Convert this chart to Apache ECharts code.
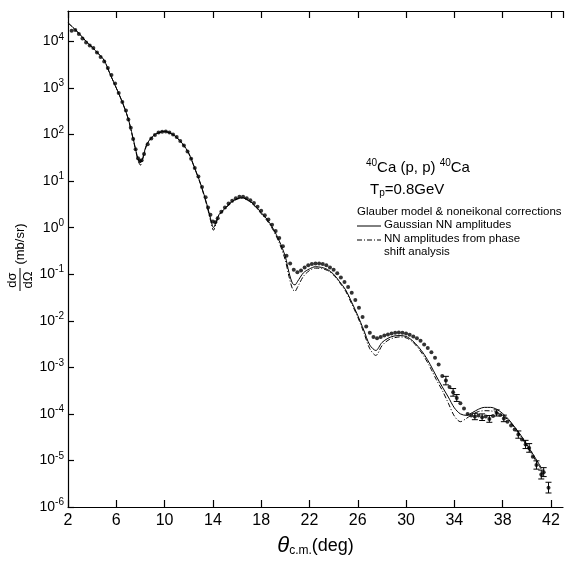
<!DOCTYPE html>
<html>
<head>
<meta charset="utf-8">
<script src="https://cdn.jsdelivr.net/npm/echarts@6/dist/echarts.min.js"></script>
<style>
  html, body { margin: 0; padding: 0; background: #fff; }
  #main { width: 566px; height: 562px; }
</style>
</head>
<body>
<div id="main"></div>
<script>
// theory curve: Glauber model, Gaussian NN amplitudes (solid)
var thetaTheory = [2, 2.5, 3, 3.5, 4, 4.5, 5, 5.5, 6, 6.5, 7, 7.5, 7.8, 8.0, 8.2, 8.5, 9, 9.5, 10, 10.5,
    11, 11.5, 12, 12.5, 13, 13.5, 13.8, 14.05, 14.3, 14.5, 15, 15.5, 16, 16.5, 17, 17.5, 18, 18.5, 19, 19.5,
    20, 20.3, 20.6, 20.8, 21, 21.5, 22, 22.5, 23, 23.5, 24, 24.5, 25, 25.5, 26, 26.5, 27, 27.5, 28, 28.5,
    29, 29.5, 30, 30.5, 31, 31.5, 32, 32.5, 33, 33.5, 34, 34.5, 35, 35.5, 36, 36.5, 37, 37.5, 38, 38.5,
    39, 39.5, 40, 40.5, 41, 41.2];
var sigmaGauss = [2.5e4, 1.9e4, 1.4e4, 1.0e4, 7.5e3, 5.5e3, 3.9e3, 1.95e3, 1.0e3, 500, 215, 63, 30, 25, 32, 60, 91, 110, 117, 107,
    87, 63, 40, 19, 8.5, 3.2, 1.6, 1.0, 1.4, 1.9, 2.6, 3.5, 4.2, 4.4, 3.8, 2.95, 2.1, 1.5, 0.95, 0.52,
    0.24, 0.11, 0.063, 0.059, 0.069, 0.107, 0.13, 0.145, 0.14, 0.126, 0.1, 0.069, 0.046, 0.025, 0.013, 0.0063, 0.003, 0.0023, 0.0034, 0.0042,
    0.0047, 0.0048, 0.0046, 0.0038, 0.0028, 0.0019, 0.00115, 6.5e-4, 3.8e-4, 2.3e-4, 1.35e-4, 1.0e-4, 9.3e-5, 1.07e-4, 1.26e-4, 1.38e-4, 1.38e-4, 1.26e-4, 1.02e-4, 7.6e-5,
    5.2e-5, 3.5e-5, 2.2e-5, 1.38e-5, 8.5e-6, 7e-6];
// NN amplitudes from phase shift analysis (dash-dot)
var sigmaPhase = [2.5e4, 1.9e4, 1.4e4, 1.0e4, 7.5e3, 5.5e3, 3.9e3, 1.95e3, 1.0e3, 490, 210, 60, 28, 22, 30, 57, 89, 108, 115, 106,
    86, 62, 39, 18.5, 8.2, 3.0, 1.45, 0.88, 1.3, 1.8, 2.5, 3.4, 4.1, 4.3, 3.7, 2.85, 2.0, 1.4, 0.88, 0.47,
    0.2, 0.09, 0.048, 0.043, 0.052, 0.09, 0.12, 0.135, 0.132, 0.12, 0.096, 0.066, 0.043, 0.023, 0.012, 0.0056, 0.0025, 0.0018, 0.0029, 0.0038,
    0.0043, 0.0045, 0.0043, 0.0036, 0.0026, 0.0017, 0.001, 5.5e-4, 3.2e-4, 1.7e-4, 9.0e-5, 6.8e-5, 8.0e-5, 9.8e-5, 1.12e-4, 1.17e-4, 1.16e-4, 1.08e-4, 9.2e-5, 7.2e-5,
    5.0e-5, 3.3e-5, 2.05e-5, 1.25e-5, 7.8e-6, 6.5e-6];

// measured points
var thetaData = [2.3, 2.6, 2.9, 3.2, 3.5, 3.8, 4.1, 4.4, 4.7, 5.0, 5.3, 5.6, 5.9, 6.2, 6.5, 6.8, 7.0, 7.2, 7.4, 7.6,
    7.8, 7.95, 8.1, 8.3, 8.6, 8.9, 9.2, 9.5, 9.8, 10.1, 10.4, 10.7, 11.0, 11.3, 11.6, 11.9, 12.2, 12.5, 12.8, 13.1,
    13.4, 13.6, 13.8, 14.0, 14.2, 14.4, 14.7, 15.0, 15.3, 15.6, 15.9, 16.2, 16.5, 16.8, 17.1, 17.4, 17.7, 18.0, 18.3, 18.6,
    18.9, 19.2, 19.5, 19.8, 20.1, 20.4, 20.7, 21.0, 21.3, 21.6, 21.9, 22.2, 22.5, 22.8, 23.1, 23.4, 23.7, 24.0, 24.3, 24.6,
    24.9, 25.2, 25.5, 25.8, 26.1, 26.4, 26.7, 27.0, 27.3, 27.6, 27.9, 28.2, 28.5, 28.8, 29.1, 29.4, 29.7, 30.0, 30.3, 30.6,
    30.9, 31.2, 31.5, 31.8, 32.1, 32.4, 32.7, 33.0, 33.3, 33.6, 33.9, 34.2, 34.5, 34.8, 35.1, 35.4, 35.7, 36.0, 36.3, 36.6,
    36.9, 37.2, 37.5, 37.8, 38.1, 38.4, 38.7, 39.0, 39.3, 39.6, 39.9, 40.2, 40.5, 40.8, 41.2, 41.4, 41.8];
var sigmaData = [1.7e4, 1.75e4, 1.45e4, 1.15e4, 9.5e3, 8.2e3, 7.2e3, 5.8e3, 4.6e3, 3.7e3, 2.7e3, 1.9e3, 1.25e3, 780, 500, 330, 210, 140, 80, 48,
    31, 27, 28, 38, 62, 82, 98, 110, 115, 116, 110, 100, 88, 73, 58, 43, 30, 19, 12.5, 7.5,
    4.5, 2.7, 1.9, 1.35, 1.3, 1.6, 2.2, 2.7, 3.3, 3.8, 4.3, 4.6, 4.6, 4.3, 3.9, 3.4, 2.8, 2.3, 1.85, 1.5,
    1.15, 0.85, 0.6, 0.4, 0.25, 0.17, 0.125, 0.11, 0.12, 0.14, 0.155, 0.165, 0.17, 0.17, 0.165, 0.155, 0.14, 0.125, 0.105, 0.085,
    0.068, 0.053, 0.04, 0.028, 0.019, 0.012, 0.0075, 0.0055, 0.0045, 0.0042, 0.0045, 0.0048, 0.0051, 0.0053, 0.0055, 0.0056, 0.0055, 0.0053, 0.005, 0.0046,
    0.0042, 0.0037, 0.0031, 0.0026, 0.0021, 0.0016, 0.00115, 6.5e-4, 5.2e-4, 3.8e-4, 2.9e-4, 2.2e-4, 1.7e-4, 1.3e-4, 1.0e-4, 9.2e-5, 8.8e-5, 9.2e-5, 8.5e-5, 8.8e-5,
    7.8e-5, 9.0e-5, 1.05e-4, 9.5e-5, 8.0e-5, 6.8e-5, 5.6e-5, 4.6e-5, 3.6e-5, 2.8e-5, 2.2e-5, 1.85e-5, 1.2e-5, 8.0e-6, 5.0e-6, 5.6e-6, 2.6e-6];

// error bars at large angles
var errTheta = [33.3, 33.9, 34.2, 35.7, 36.3, 36.9, 37.5, 38.1, 39.3, 39.9, 40.2, 40.8, 41.2, 41.4, 41.8];
var errLow = [4.2e-4, 2.4e-4, 1.85e-4, 7.5e-5, 7.2e-5, 6.6e-5, 9.0e-5, 6.8e-5, 3.0e-5, 1.8e-5, 1.5e-5, 6.5e-6, 4.0e-6, 4.5e-6, 2.0e-6];
var errHigh = [6.4e-4, 3.5e-4, 2.6e-4, 1.03e-4, 1.0e-4, 9.2e-5, 1.22e-4, 9.4e-5, 4.3e-5, 2.7e-5, 2.3e-5, 9.8e-6, 6.2e-6, 7.0e-6, 3.4e-6];

var xTicks = { min: 2, max: 43, interval: 4 };

function zip(a, b) {
    return a.map(function (v, i) { return [v, b[i]]; });
}

var font = 'Liberation Sans, Arial, sans-serif';
var chart = echarts.init(document.getElementById('main'));

var option = {
    animation: false,
    backgroundColor: '#fff',
    textStyle: { fontFamily: font, color: '#000' },
    grid: { left: 68, right: 3, top: 11, bottom: 51 },
    xAxis: [
        {
            type: 'value',
            min: xTicks.min,
            max: xTicks.max,
            interval: xTicks.interval,
            axisLine: { lineStyle: { color: '#000', width: 1.2 } },
            axisTick: { inside: true, length: 7, lineStyle: { color: '#000', width: 1.2 } },
            axisLabel: { color: '#000', fontSize: 16, margin: 6, showMaxLabel: false, fontFamily: font },
            splitLine: { show: false },
            name: '{t|θ}{s|c.m.}{n|(deg)}',
            nameLocation: 'middle',
            nameGap: 28,
            nameTextStyle: {
                rich: {
                    t: { fontSize: 22, fontStyle: 'italic', fontFamily: font, color: '#000' },
                    s: { fontSize: 12, fontFamily: font, color: '#000', padding: [10, 0, 0, 0] },
                    n: { fontSize: 18, fontFamily: font, color: '#000' }
                }
            }
        },
        {
            type: 'value',
            position: 'top',
            min: xTicks.min,
            max: xTicks.max,
            interval: xTicks.interval,
            axisLine: { lineStyle: { color: '#000', width: 1.2 } },
            axisTick: { inside: true, length: 7, lineStyle: { color: '#000', width: 1.2 } },
            axisLabel: { show: false },
            splitLine: { show: false }
        }
    ],
    yAxis: {
        type: 'log',
        logBase: 10,
        min: 1e-6,
        max: 4.5e4,
        interval: 1,
        axisLine: { show: true, lineStyle: { color: '#000', width: 1.2 } },
        axisTick: { show: true, inside: true, length: 6, lineStyle: { color: '#000', width: 1.2 } },
        axisLabel: {
            color: '#000',
            margin: 4,
            showMaxLabel: false,
            formatter: function (v) {
                var e = Math.round(Math.log10(v));
                return '{b|10}{s|' + e + '}';
            },
            rich: {
                b: { fontSize: 14, fontFamily: font, color: '#000' },
                s: { fontSize: 10, fontFamily: font, color: '#000', padding: [0, 0, 9, 0] }
            }
        },
        splitLine: { show: false },
        minorTick: { show: false }
    },
    series: [
        {
            name: 'Gaussian NN amplitudes',
            type: 'line',
            data: zip(thetaTheory, sigmaGauss),
            showSymbol: false,
            smooth: 0.3,
            lineStyle: { color: '#000', width: 1 },
            z: 3
        },
        {
            name: 'NN amplitudes from phase shift analysis',
            type: 'line',
            data: zip(thetaTheory, sigmaPhase),
            showSymbol: false,
            smooth: 0.3,
            lineStyle: { color: '#000', width: 1, type: [5, 2, 1, 2] },
            z: 3
        },
        {
            name: 'data',
            type: 'scatter',
            data: zip(thetaData, sigmaData),
            symbol: 'circle',
            symbolSize: 4,
            itemStyle: { color: '#000' },
            z: 4
        },
        {
            name: 'errors',
            type: 'custom',
            data: errTheta.map(function (t, i) { return [t, errLow[i], errHigh[i]]; }),
            encode: { x: 0, y: [1, 2] },
            renderItem: function (params, api) {
                var x = api.value(0);
                var lo = api.coord([x, api.value(1)]);
                var hi = api.coord([x, api.value(2)]);
                var w = 3;
                var st = { stroke: '#000', lineWidth: 1 };
                return {
                    type: 'group',
                    children: [
                        { type: 'line', shape: { x1: lo[0], y1: lo[1], x2: hi[0], y2: hi[1] }, style: st },
                        { type: 'line', shape: { x1: lo[0] - w, y1: lo[1], x2: lo[0] + w, y2: lo[1] }, style: st },
                        { type: 'line', shape: { x1: hi[0] - w, y1: hi[1], x2: hi[0] + w, y2: hi[1] }, style: st }
                    ]
                };
            },
            z: 4
        }
    ],
    graphic: [
        // y axis title: dσ/dΩ (mb/sr), reading bottom to top
        { type: 'text', x: 12, y: 280, rotation: Math.PI / 2,
          style: { text: 'dσ', font: '13px ' + font, fill: '#000', align: 'center', verticalAlign: 'middle' } },
        { type: 'line', shape: { x1: 20, y1: 268, x2: 20, y2: 291 }, style: { stroke: '#000', lineWidth: 1 } },
        { type: 'text', x: 28, y: 280, rotation: Math.PI / 2,
          style: { text: 'dΩ', font: '13px ' + font, fill: '#000', align: 'center', verticalAlign: 'middle' } },
        { type: 'text', x: 20, y: 244, rotation: Math.PI / 2,
          style: { text: '(mb/sr)', font: '13px ' + font, fill: '#000', align: 'center', verticalAlign: 'middle' } },
        // reaction and legend block
        { type: 'text', left: 366, top: 158,
          style: { text: '{s|40}{n|Ca (p, p) }{s|40}{n|Ca}', rich: {
              n: { fontSize: 15, fontFamily: font, fill: '#000' },
              s: { fontSize: 10, fontFamily: font, fill: '#000', padding: [0, 0, 9, 0] } } } },
        { type: 'text', left: 370, top: 182,
          style: { text: '{n|T}{s|p}{n|=0.8GeV}', rich: {
              n: { fontSize: 15, fontFamily: font, fill: '#000' },
              s: { fontSize: 10, fontFamily: font, fill: '#000', padding: [8, 0, 0, 0] } } } },
        { type: 'text', left: 357, top: 206,
          style: { text: 'Glauber model & noneikonal corrections', font: '11.5px ' + font, fill: '#000' } },
        { type: 'line', shape: { x1: 357, y1: 226, x2: 381, y2: 226 }, style: { stroke: '#000', lineWidth: 1 } },
        { type: 'text', left: 384, top: 219,
          style: { text: 'Gaussian NN amplitudes', font: '11.5px ' + font, fill: '#000' } },
        { type: 'line', shape: { x1: 357, y1: 240, x2: 381, y2: 240 }, style: { stroke: '#000', lineWidth: 1, lineDash: [5, 2, 1, 2] } },
        { type: 'text', left: 384, top: 233,
          style: { text: 'NN amplitudes from phase', font: '11.5px ' + font, fill: '#000' } },
        { type: 'text', left: 384, top: 246,
          style: { text: 'shift analysis', font: '11.5px ' + font, fill: '#000' } }
    ]
};

chart.setOption(option);
</script>
</body>
</html>
